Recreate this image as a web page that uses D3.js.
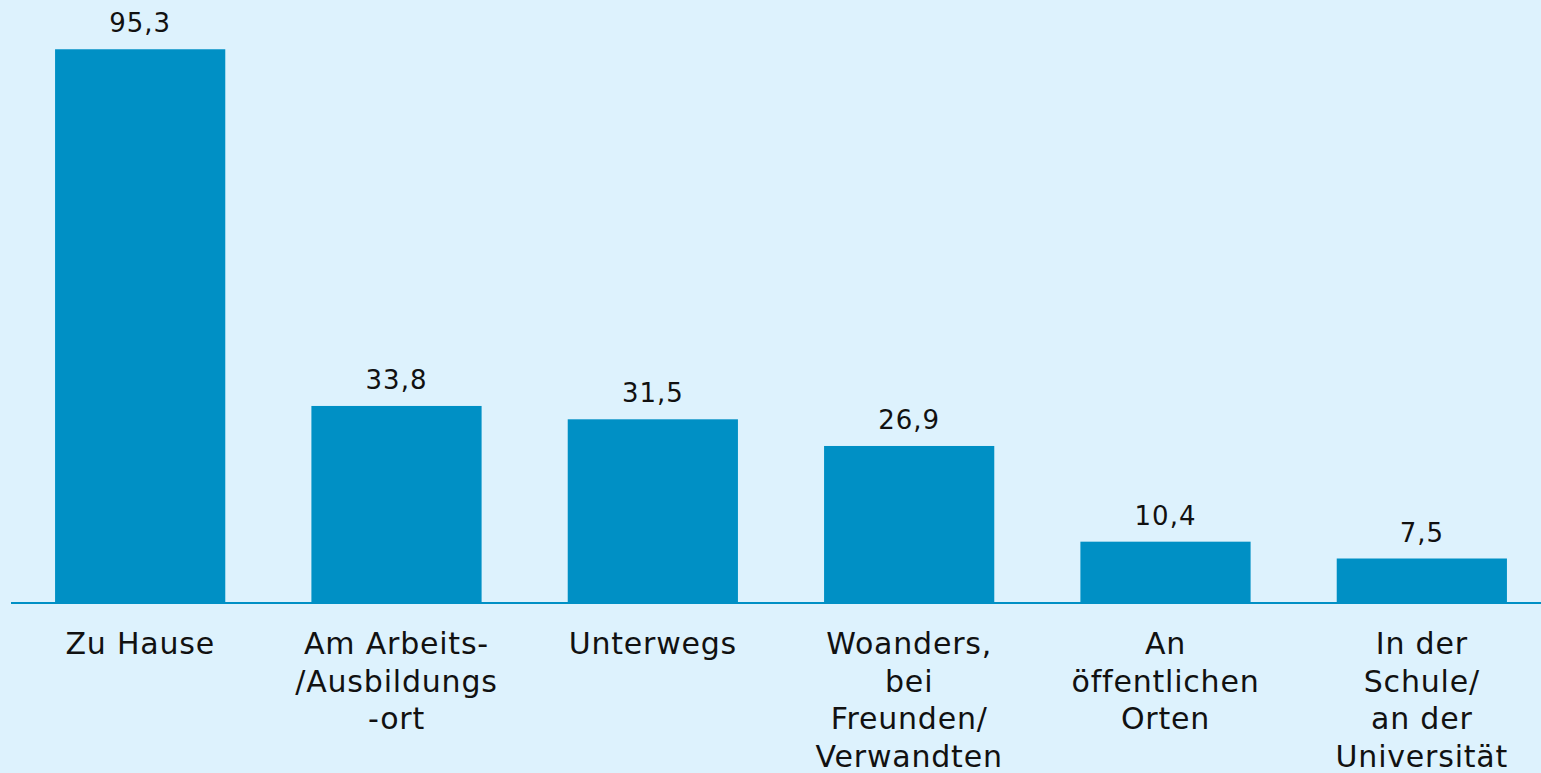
<!DOCTYPE html>
<html>
<head>
<meta charset="utf-8">
<script src="https://cdn.jsdelivr.net/npm/d3@7"></script>
<style>
    html, body { margin: 0; padding: 0; background: #ddf2fd; }
    .value_label { font-family: "DejaVu Sans", sans-serif; font-size: 26px; letter-spacing: 1px; fill: #111; }
    .category_label { font-family: "DejaVu Sans", sans-serif; font-size: 30px; letter-spacing: 0.8px; fill: #111; }
</style>
</head>
<body>
<div class="chart"></div>
<script>
const categories = [
    ["Zu Hause"],
    ["Am Arbeits-", "/Ausbildungs", "-ort"],
    ["Unterwegs"],
    ["Woanders,", "bei", "Freunden/", "Verwandten"],
    ["An", "öffentlichen", "Orten"],
    ["In der", "Schule/", "an der", "Universität"]
]
const values = [95.3, 33.8, 31.5, 26.9, 10.4, 7.5]
const valueLabels = ["95,3", "33,8", "31,5", "26,9", "10,4", "7,5"]

function drawChart() {
    const width = 1541
    const height = 773

    const svg = d3.select(".chart")
        .append("svg")
        .attr("width", width)
        .attr("height", height)
        .style("display", "block")

    svg.append("rect")
        .attr("width", width)
        .attr("height", height)
        .attr("fill", "#ddf2fd")

    const x = d3.scaleBand()
        .domain(d3.range(values.length))
        .range([12, 1550])
        .paddingInner(0.336)
        .paddingOuter(0.168)

    const y = d3.scaleLinear()
        .domain([0, 100])
        .range([602, 22])

    svg.selectAll(".bar")
        .data(values)
        .join("rect")
        .attr("class", "bar")
        .attr("x", (d, i) => x(i))
        .attr("y", d => y(d))
        .attr("width", x.bandwidth())
        .attr("height", d => y(0) - y(d))
        .attr("fill", "#0090c5")

    // baseline
    svg.append("line")
        .attr("x1", 11)
        .attr("x2", width)
        .attr("y1", y(0) + 1)
        .attr("y2", y(0) + 1)
        .attr("stroke", "#0090c5")
        .attr("stroke-width", 2)

    svg.selectAll(".value_label")
        .data(values)
        .join("text")
        .attr("class", "value_label")
        .attr("text-anchor", "middle")
        .attr("x", (d, i) => x(i) + x.bandwidth() / 2)
        .attr("y", d => y(d) - 17)
        .text((d, i) => valueLabels[i])

    const catLabels = svg.selectAll(".category_label")
        .data(categories)
        .join("text")
        .attr("class", "category_label")
        .attr("text-anchor", "middle")

    catLabels.selectAll("tspan")
        .data((d, i) => d.map(line => ({ line, i })))
        .join("tspan")
        .attr("x", d => x(d.i) + x.bandwidth() / 2)
        .attr("y", (d, j) => 654 + j * 37.5)
        .text(d => d.line)
}

drawChart()
</script>
</body>
</html>
